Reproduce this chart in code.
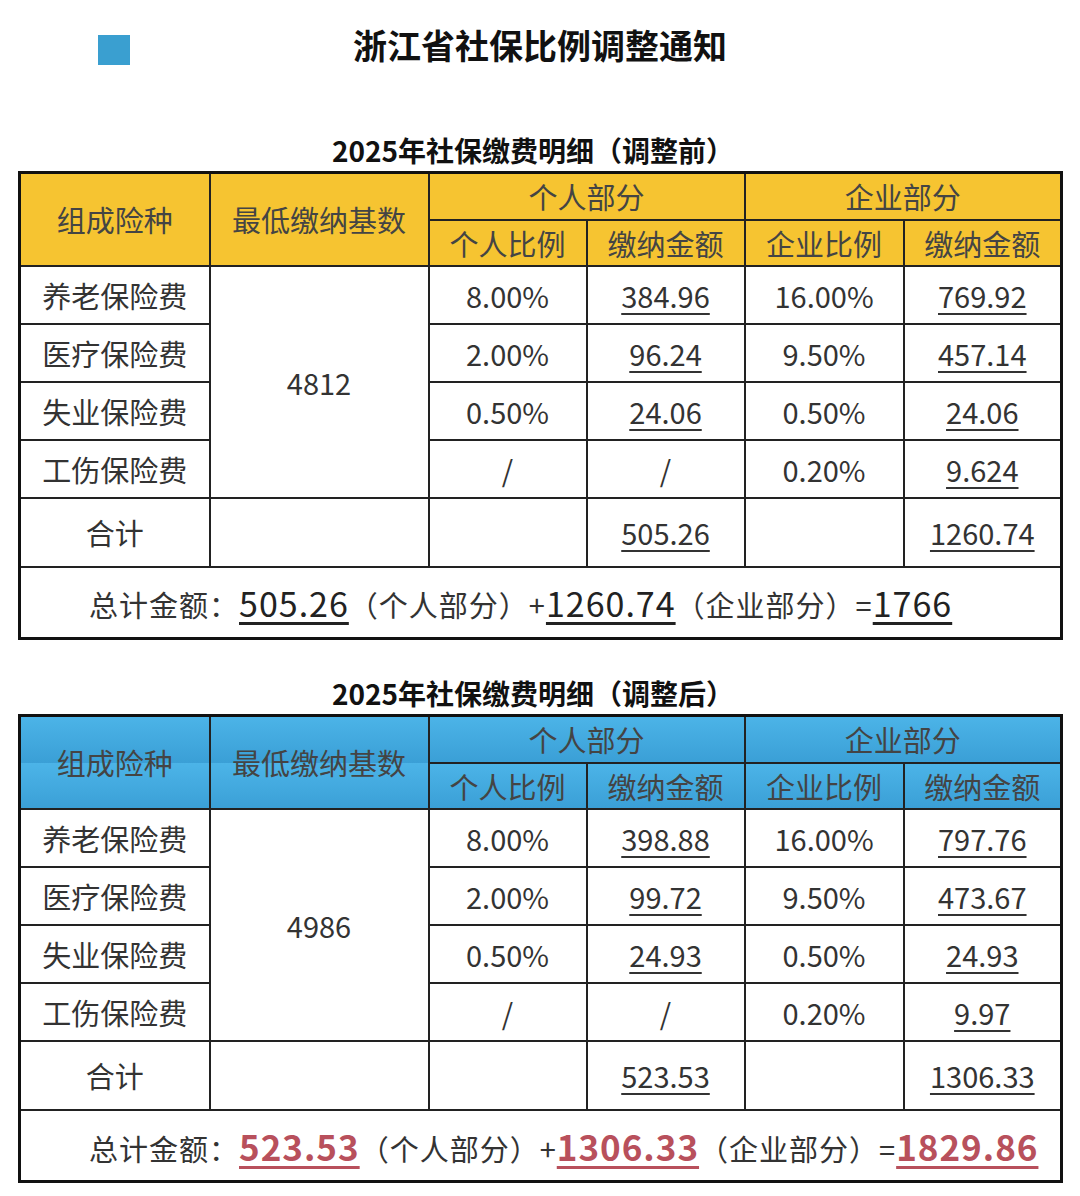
<!DOCTYPE html>
<html><head><meta charset="utf-8">
<script src="https://cdn.jsdelivr.net/npm/chart.js@4"></script>
<style>
body{margin:0;width:1080px;height:1196px;background:#fff;font-family:"Noto Sans CJK SC","Noto Sans",sans-serif;position:relative;overflow:hidden}
.sq{position:absolute;left:98px;top:35px;width:32px;height:30px;background:#3a9fd0}
.title{position:absolute;left:0;width:1080px;top:20px;text-align:center;font-size:34px;font-weight:bold;color:#111}
.sub{position:absolute;left:0;width:1066px;text-align:center;font-size:28px;font-weight:bold;color:#111}
table{position:absolute;left:18px;border-collapse:collapse;border:3px solid #111;table-layout:fixed}
td{border:2px solid #222;text-align:center;font-size:29px;color:#333;padding:0}
.h td{color:#444}
.u{text-decoration:underline;text-underline-offset:5px}
.tot{text-align:left;padding-left:68px;font-size:29px;letter-spacing:1px}
.tot b{font-weight:normal;font-size:34px;text-decoration:underline;text-underline-offset:5px;color:#222}
.red b{color:#b8505c;font-weight:bold;font-size:35px}
</style></head><body>
<div class="sq"></div>
<div class="title" id="title"></div>
<div class="sub" style="top:130px" id="sub1"></div>
<div class="sub" style="top:673px" id="sub2"></div>
<table id="t1" style="top:171px;width:1042px"></table>
<table id="t2" style="top:714px;width:1042px"></table>
<script>
const title = '浙江省社保比例调整通知';
const subtitles = ['2025年社保缴费明细（调整前）', '2025年社保缴费明细（调整后）'];
const categories = ['养老保险费', '医疗保险费', '失业保险费', '工伤保险费'];
const bases = ['4812', '4986'];
const personalRate = ['8.00%', '2.00%', '0.50%', '/'];
const companyRate = ['16.00%', '9.50%', '0.50%', '0.20%'];
const personalBefore = ['384.96', '96.24', '24.06', '/'];
const companyBefore = ['769.92', '457.14', '24.06', '9.624'];
const personalAfter = ['398.88', '99.72', '24.93', '/'];
const companyAfter = ['797.76', '473.67', '24.93', '9.97'];
const sumBefore = ['505.26', '1260.74', '1766'];
const sumAfter = ['523.53', '1306.33', '1829.86'];
const colW = [190, 219, 158, 158, 159, 158];

document.getElementById('title').textContent = title;
document.getElementById('sub1').textContent = subtitles[0];
document.getElementById('sub2').textContent = subtitles[1];

function build(id, base, pers, comp, sums, headBg, red) {
    const u = v => v === '/' ? v : '<span class="u">' + v + '</span>';
    let h = '<colgroup>' + colW.map(w => '<col style="width:' + w + 'px">').join('') + '</colgroup>';
    h += '<tr class="h" style="height:47px;background:' + headBg + '"><td rowspan="2">组成险种</td><td rowspan="2">最低缴纳基数</td><td colspan="2">个人部分</td><td colspan="2">企业部分</td></tr>';
    h += '<tr class="h" style="height:46px;background:' + headBg + '"><td>个人比例</td><td>缴纳金额</td><td>企业比例</td><td>缴纳金额</td></tr>';
    categories.forEach((c, i) => {
        h += '<tr style="height:58px"><td>' + c + '</td>' + (i === 0 ? '<td rowspan="4">' + base + '</td>' : '') +
            '<td>' + personalRate[i] + '</td><td>' + u(pers[i]) + '</td><td>' + companyRate[i] + '</td><td>' + u(comp[i]) + '</td></tr>';
    });
    h += '<tr style="height:69px"><td>合计</td><td></td><td></td><td>' + u(sums[0]) + '</td><td></td><td>' + u(sums[1]) + '</td></tr>';
    h += '<tr style="height:72px"><td colspan="6" class="tot' + (red ? ' red' : '') + '">总计金额：<b>' + sums[0] + '</b>（个人部分）+<b>' + sums[1] + '</b>（企业部分）=<b>' + sums[2] + '</b></td></tr>';
    document.getElementById(id).innerHTML = h;
}
build('t1', bases[0], personalBefore, companyBefore, sumBefore, '#f6c431', false);
build('t2', bases[1], personalAfter, companyAfter, sumAfter, 'linear-gradient(#4cb4e8,#3a9fd6)', true);
</script>
</body></html>
